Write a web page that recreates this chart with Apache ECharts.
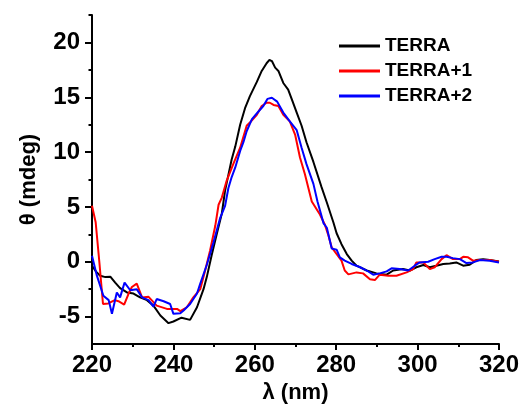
<!DOCTYPE html>
<html>
<head>
<meta charset="utf-8">
<script src="https://cdn.jsdelivr.net/npm/echarts@6/dist/echarts.min.js"></script>
<style>html,body{margin:0;padding:0;background:#fff;}#c{width:523px;height:409px;}</style>
</head>
<body>
<div id="c"></div>
<script>
const seriesNames = ['TERRA', 'TERRA+1', 'TERRA+2'];
const seriesColors = ['#000000', '#ff0000', '#0000ff'];
const xTicks = [220, 240, 260, 280, 300, 320];
const yTicks = [-5, 0, 5, 10, 15, 20];
const yMinorTicks = [-2.5, 2.5, 7.5, 12.5, 17.5, 22.5];

const terra = [[220,-0.36],[221,-0.9],[222,-1.27],[223.3,-1.4],[224.5,-1.36],[225.7,-1.9],[226.9,-2.4],[228.6,-2.8],[230.2,-2.9],[231.8,-3.25],[233.5,-3.5],[235.1,-4.0],[236.8,-4.9],[238.8,-5.6],[240,-5.45],[242,-5.1],[244.1,-5.3],[245.8,-4.15],[247.4,-2.5],[248.2,-1.4],[249.4,0.6],[250.7,2.6],[251.9,4.4],[252.7,6.5],[253.5,7.9],[254.3,9.3],[255.2,10.5],[256.4,12.5],[257.6,14.0],[258.8,15.1],[260.5,16.4],[261.7,17.4],[262.9,18.1],[263.6,18.4],[264.2,18.3],[265,17.7],[265.8,17.4],[267,16.3],[268.2,15.7],[269.1,14.8],[270.3,13.6],[271.5,12.4],[272.7,10.9],[274.4,9.1],[276.4,6.8],[277.7,5.4],[279.3,3.6],[280.1,2.6],[281.3,1.6],[282.6,0.7],[283.8,0.1],[285,-0.36],[287.5,-0.8],[289.9,-1.06],[292.4,-1.18],[294,-0.8],[296.4,-0.67],[298.1,-0.8],[299.7,-0.5],[301.4,-0.3],[303,-0.5],[304.6,-0.36],[306.3,-0.2],[307.9,-0.15],[309.5,-0.06],[311.2,-0.36],[312.8,-0.27],[314.4,0.15],[316.1,0.24],[317.7,0.15],[320,0.03]];

const terra1 = [[220,5.1],[220.9,3.6],[221.8,0],[222.7,-3.85],[224,-3.8],[225.6,-3.5],[226.5,-3.6],[227.9,-3.9],[229,-2.9],[229.8,-2.3],[231,-2.0],[232.3,-3.25],[233.9,-3.2],[235.9,-4.0],[238.4,-4.3],[240.9,-4.3],[241.7,-4.5],[243.3,-4.15],[244.9,-3.25],[246.6,-2.5],[247.8,-0.8],[249,1.0],[250.3,3.3],[251.1,5.2],[251.9,5.85],[253.1,7.4],[254.7,8.9],[256.4,10.4],[258,12.4],[258.8,12.7],[260.5,13.4],[261.7,14.2],[262.9,14.5],[263.7,14.5],[264.6,14.3],[265.8,14.2],[267,13.4],[268.6,12.8],[269.9,11.6],[271.1,9.5],[272.3,8.0],[274,5.5],[276,4.3],[277.2,3.4],[278,2.5],[278.9,1.3],[281.3,0.1],[282.1,-0.8],[283,-1.15],[285,-0.97],[286.6,-1.06],[288.3,-1.6],[289.5,-1.67],[290.7,-1.18],[292.8,-1.27],[294.8,-1.27],[297.3,-0.97],[298.9,-0.67],[299.7,-0.06],[301.4,-0.06],[303,-0.67],[304.2,-0.5],[305.9,0.24],[307.1,0.6],[308.7,0.24],[310.4,0.24],[311.2,0.45],[312.4,0.4],[313.6,0.1],[315.3,0.15],[317.7,0.15],[320,0]];

const terra2 = [[220,0.55],[221.2,-1.27],[222.8,-3.1],[224.1,-3.5],[224.9,-4.75],[226.1,-2.8],[226.9,-3.25],[228,-1.9],[229.4,-2.6],[231,-2.5],[232.3,-3.25],[233.9,-3.5],[235.1,-4.1],[235.9,-3.4],[237.6,-3.6],[239.2,-3.85],[240,-4.75],[241.7,-4.7],[242.5,-4.45],[244.1,-3.85],[245.8,-2.9],[246.6,-2.0],[248.2,-0.3],[249.8,1.7],[251.5,4.0],[252.7,5.1],[253.5,6.7],[254.3,7.7],[255.2,8.6],[256.4,10.1],[257.2,10.9],[258,11.9],[259.3,13.0],[260.9,13.7],[262.1,14.2],[263.1,14.85],[264.2,14.95],[265.5,14.6],[267,13.6],[268.6,12.8],[270.3,12.0],[271.5,10.4],[272.7,8.9],[274.4,7.1],[275.4,5.5],[276.9,3.5],[277.7,3.1],[278.9,1.2],[280.1,1.1],[280.9,0.4],[282.1,0.1],[283.8,-0.2],[285.9,-0.5],[287.5,-0.8],[289.1,-1.18],[290.7,-1.06],[292.4,-0.88],[293.6,-0.6],[295.6,-0.67],[297.7,-0.8],[299.3,-0.36],[300.5,-0.06],[302.6,0],[304.2,0.24],[305.9,0.45],[307.1,0.45],[308.7,0.33],[310.4,0.24],[312,-0.12],[313.6,-0.06],[315.3,0.15],[317.7,0.09],[320,-0.06]];

const allData = [terra, terra1, terra2];
const FONT = 'Arial, "Liberation Sans", sans-serif';

const chart = echarts.init(document.getElementById('c'), null, {renderer: 'canvas'});
chart.setOption({
  animation: false,
  backgroundColor: '#ffffff',
  grid: {left: 92, right: 24, top: 15, bottom: 65, containLabel: false},
  legend: {
    orient: 'vertical', left: 334, top: 31,
    icon: 'rect',
    itemWidth: 41, itemHeight: 3, itemGap: 5,
    textStyle: {fontFamily: FONT, fontWeight: 'bold', fontSize: 19, color: '#000', lineHeight: 20},
    data: seriesNames
  },
  xAxis: {
    type: 'value', min: 220, max: 320, interval: 20,
    name: 'λ (nm)', nameLocation: 'middle', nameGap: 38,
    nameTextStyle: {fontFamily: FONT, fontWeight: 'bold', fontSize: 22, color: '#000'},
    axisLine: {show: true, onZero: false, lineStyle: {color: '#000', width: 2}},
    axisTick: {show: true, inside: false, length: 6, lineStyle: {color: '#000', width: 2}},
    minorTick: {show: true, splitNumber: 2, length: 3, lineStyle: {color: '#000', width: 2}},
    axisLabel: {fontFamily: FONT, fontWeight: 'bold', fontSize: 24, color: '#000', margin: 9,
      customValues: xTicks},
    splitLine: {show: false}
  },
  yAxis: [{
    type: 'value', min: -7.5, max: 22.5, interval: 2.5,
    name: 'θ (mdeg)', nameLocation: 'middle', nameGap: 52,
    nameTextStyle: {fontFamily: FONT, fontWeight: 'bold', fontSize: 22, color: '#000'},
    axisLine: {show: true, onZero: false, lineStyle: {color: '#000', width: 2}},
    axisTick: {show: true, inside: false, length: 7, lineStyle: {color: '#000', width: 2},
      customValues: yTicks},
    axisLabel: {fontFamily: FONT, fontWeight: 'bold', fontSize: 24, color: '#000', margin: 12,
      customValues: yTicks},
    splitLine: {show: false}
  }, {
    type: 'value', min: -7.5, max: 22.5, interval: 2.5, position: 'left',
    axisLine: {show: false},
    axisTick: {show: true, inside: false, length: 3.5, lineStyle: {color: '#000', width: 2},
      customValues: yMinorTicks},
    axisLabel: {show: false},
    splitLine: {show: false}
  }],
  series: seriesNames.map((n, i) => ({
    name: n, type: 'line', data: allData[i], yAxisIndex: 0,
    showSymbol: false, symbol: 'none', smooth: false,
    lineStyle: {color: seriesColors[i], width: 2},
    itemStyle: {color: seriesColors[i]},
    z: 2 + i
  }))
});
</script>
</body>
</html>
